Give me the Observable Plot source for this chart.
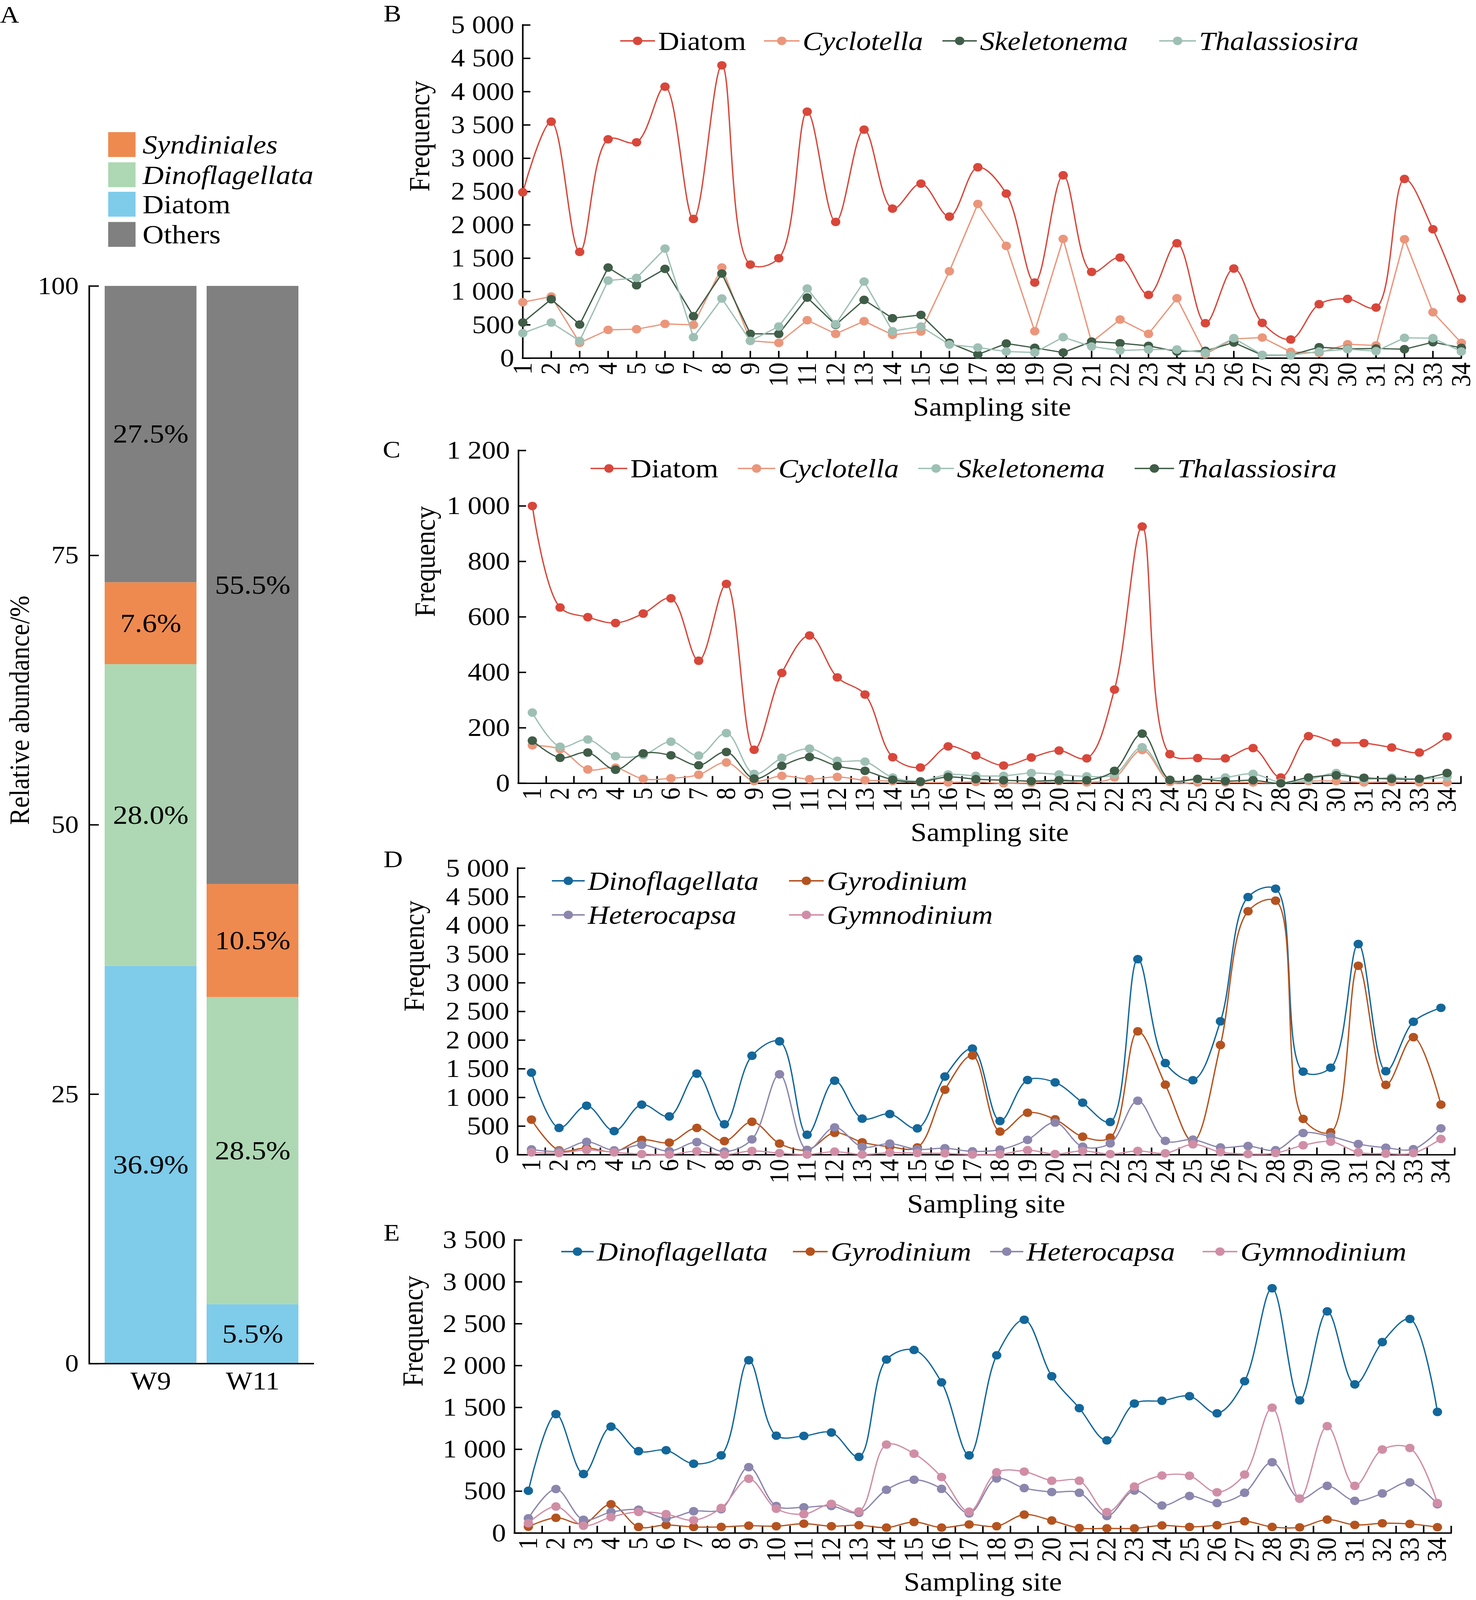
<!DOCTYPE html>
<html>
<head>
<meta charset="utf-8">
<script src="https://cdn.jsdelivr.net/npm/d3@7"></script>
<script src="https://cdn.jsdelivr.net/npm/@observablehq/plot@0.6"></script>
<style>
html, body { margin: 0; padding: 0; background: #fff; overflow: hidden; }
#root { position: relative; width: 3779px; height: 4505px; background: #fff; overflow: hidden;
  font-family: "Liberation Serif", "Times New Roman", serif; color: #000; transform-origin: 0 0; }
.abs { position: absolute; }
.plabel { position: absolute; font-size: 68px; line-height: 1; }
.legtext { position: absolute; font-size: 75px; line-height: 1; white-space: nowrap; transform: translateY(-50%); }
</style>
</head>
<body>
<div id="root"></div>
<script>
const FONT = '"Liberation Serif", "Times New Roman", serif';

// ---------- Panel A data ----------
const stackCategories = ["W9", "W11"];
const stackGroups = ["Diatom", "Dinoflagellata", "Syndiniales", "Others"];
const stackDiatom = [36.9, 5.5];
const stackDinoflagellata = [28.0, 28.5];
const stackSyndiniales = [7.6, 10.5];
const stackOthers = [27.5, 55.5];
const stackColors = ["#7ECBEA", "#ADD8B3", "#EE8A4F", "#808080"];
const stackTicks = [0, 25, 50, 75, 100];
const stackLegendOrder = ["Syndiniales", "Dinoflagellata", "Diatom", "Others"];

// ---------- Shared site categories ----------
const sites = [1,2,3,4,5,6,7,8,9,10,11,12,13,14,15,16,17,18,19,20,21,22,23,24,25,26,27,28,29,30,31,32,33,34];

// ---------- Panel B data ----------
const bDiatom = [2490,3550,1595,3285,3240,4075,2090,4395,1405,1500,3700,2045,3430,2245,2620,2125,2865,2470,1135,2745,1295,1510,950,1725,525,1345,530,280,810,890,760,2690,1935,895];
const bCyclotella = [840,925,230,425,435,515,500,1360,260,230,570,365,555,350,400,1305,2315,1685,405,1790,240,580,365,900,60,290,310,95,80,210,190,1785,690,230];
const bSkeletonema = [535,885,505,1360,1095,1340,630,1270,365,365,910,500,875,600,650,230,55,220,155,85,250,225,185,100,110,235,45,45,165,140,145,135,240,155];
const bThalassiosira = [375,535,260,1165,1205,1645,315,895,260,475,1045,510,1150,405,475,205,160,100,85,315,175,115,130,130,80,300,50,45,100,135,105,305,300,100];
const bTicks = [0,500,1000,1500,2000,2500,3000,3500,4000,4500,5000];

// ---------- Panel C data ----------
const cDiatom = [1000,634,599,578,612,667,442,719,121,398,533,382,320,94,57,133,100,64,93,118,90,338,926,105,91,90,127,21,170,147,145,129,111,169];
const cCyclotella = [137,123,50,56,16,18,31,75,8,27,15,23,11,8,3,3,5,0,2,8,3,21,120,5,3,3,3,1,8,8,3,5,3,3];
const cSkeletonema = [255,132,158,98,102,150,100,181,34,92,125,81,78,21,8,32,27,27,37,32,25,32,130,13,13,21,34,3,13,37,15,21,15,23];
const cThalassiosira = [154,92,111,49,108,101,65,113,17,63,95,62,45,13,6,23,15,11,8,11,11,45,179,12,16,8,11,0,21,29,20,16,16,37];
const cTicks = [0,200,400,600,800,1000,1200];

// ---------- Panel D data ----------
const dDinoflagellata = [1433,469,857,414,875,670,1416,533,1728,1980,350,1293,631,712,461,1365,1852,589,1305,1263,909,572,3413,1600,1301,2329,4497,4642,1451,1519,3677,1459,2321,2564];
const dGyrodinium = [614,77,120,55,260,213,469,239,576,196,85,384,218,141,128,1135,1732,405,734,619,316,299,2154,1224,230,1915,4249,4433,627,392,3298,1220,2052,875];
const dHeterocapsa = [94,64,226,77,175,64,222,55,269,1404,85,478,137,196,94,115,60,90,260,563,141,200,943,243,265,128,154,81,380,320,188,124,98,461];
const dGymnodinium = [43,30,85,43,13,5,64,5,68,30,5,55,5,38,30,26,5,9,81,13,68,13,68,26,183,47,13,30,166,230,43,21,30,277];
const dTicks = [0,500,1000,1500,2000,2500,3000,3500,4000,4500,5000];

// ---------- Panel E data ----------
const eDinoflagellata = [505,1421,705,1271,978,989,828,928,2064,1163,1160,1201,910,2073,2187,1800,928,2123,2548,1873,1492,1107,1547,1580,1635,1430,1814,2924,1585,2648,1776,2281,2557,1447];
const eGyrodinium = [76,182,110,344,73,97,73,73,88,82,112,82,94,65,132,65,103,82,220,150,59,56,56,91,73,94,141,73,68,161,97,117,109,70];
const eHeterocapsa = [176,526,159,250,279,176,261,285,787,323,308,323,241,517,637,528,235,652,537,490,481,203,508,329,443,358,481,846,411,564,385,473,605,344];
const eGymnodinium = [117,317,88,191,252,226,153,299,649,291,226,349,258,1057,948,669,255,725,734,625,625,250,555,687,684,487,699,1497,411,1277,564,998,1016,358];
const eTicks = [0,500,1000,1500,2000,2500,3000,3500];

// ---------- Colours ----------
const colDiatom = "#D8473A", colCyclotella = "#EB967B", colDark = "#3F5D47", colLight = "#9EC0B4";
const colDino = "#13679A", colGyro = "#B4531F", colHetero = "#8B86AD", colGymno = "#D08EA6";

const root = document.getElementById("root");
const fmt = v => d3.format(",")(v).replace(/,/g, " ");

function place(el, left, top) {
  const w = document.createElement("div");
  w.className = "abs";
  w.style.left = left + "px";
  w.style.top = top + "px";
  w.appendChild(el);
  root.appendChild(w);
}
function panelLabel(txt, left, baseline) {
  const d = document.createElement("div");
  d.className = "plabel";
  d.textContent = txt;
  d.style.left = left + "px";
  d.style.top = (baseline - 0.8375 * 68) + "px";
  root.appendChild(d);
}
function lineLegend(items) {
  for (const it of items) {
    const len = it.textX - it.lineX - 8;
    const svg = d3.create("svg").attr("width", len).attr("height", 40)
      .style("position", "absolute").style("left", it.lineX + "px").style("top", (it.y - 20) + "px");
    svg.append("line").attr("x1", 0).attr("x2", len).attr("y1", 20).attr("y2", 20)
      .attr("stroke", it.color).attr("stroke-width", 4);
    svg.append("circle").attr("cx", len / 2).attr("cy", 20).attr("r", 12).attr("fill", it.color);
    root.appendChild(svg.node());
    const t = document.createElement("div");
    t.className = "legtext";
    t.textContent = it.label;
    t.style.left = it.textX + "px";
    t.style.top = it.y + "px";
    if (it.italic) t.style.fontStyle = "italic";
    root.appendChild(t);
  }
}

// ---------- Panel A ----------
(function () {
  const valuesByGroup = {Diatom: stackDiatom, Dinoflagellata: stackDinoflagellata, Syndiniales: stackSyndiniales, Others: stackOthers};
  const data = [];
  stackCategories.forEach((c, i) => stackGroups.forEach(g => data.push({cat: c, group: g, value: valuesByGroup[g][i]})));
  const W = 900, H = 4000, mL = 228, mR = 96, mT = 805, mB = 161;
  const fw = W - mL - mR;
  const chart = Plot.plot({
    width: W, height: H, marginLeft: mL, marginRight: mR, marginTop: mT, marginBottom: mB,
    style: {fontFamily: FONT, fontSize: "70px", background: "transparent", overflow: "visible"},
    x: {domain: stackCategories, paddingInner: 0.1, paddingOuter: 0.15},
    y: {domain: [0, 100]},
    color: {domain: stackGroups, range: stackColors},
    marks: [
      Plot.barY(data, {x: "cat", y: "value", fill: "group", z: "group"}),
      Plot.text(data, Plot.stackY({x: "cat", y: "value", z: "group", text: d => d.value.toFixed(1) + "%", fontSize: 75, fill: "#000"})),
      Plot.axisX({tickSize: 0, tickPadding: 22, label: null, fontSize: 72}),
      Plot.axisY(stackTicks, {tickSize: 0, tickPadding: 27, label: null, fontSize: 70}),
      Plot.tickY(stackTicks, {y: d => d, stroke: "#000", strokeWidth: 4, insetRight: fw - 25}),
      Plot.frame({anchor: "left", stroke: "#000", strokeWidth: 4}),
      Plot.ruleY([0], {stroke: "#000", strokeWidth: 4}),
      Plot.text(["Relative abundance/%"], {text: d => d, frameAnchor: "left", dx: -178, rotate: -90, fontSize: 72})
    ]
  });
  place(chart, 0, 0);

  const legY = [407, 492, 575, 660];
  stackLegendOrder.forEach((g, i) => {
    const sw = document.createElement("div");
    sw.className = "abs";
    sw.style.left = "277px"; sw.style.top = (legY[i] - 35) + "px";
    sw.style.width = "70px"; sw.style.height = "70px";
    sw.style.background = stackColors[stackGroups.indexOf(g)];
    root.appendChild(sw);
    const t = document.createElement("div");
    t.className = "legtext";
    t.textContent = g;
    t.style.left = "365px"; t.style.top = legY[i] + "px";
    if (g === "Syndiniales" || g === "Dinoflagellata") t.style.fontStyle = "italic";
    root.appendChild(t);
  });
  panelLabel("A", 0, 64);
})();

// ---------- Line panels ----------
function linePanel(cfg) {
  const W = 2829;
  const {height: H, mL, mR, mT, mB, band, yDomain, yTicks, series, freqDx} = cfg;
  const fw = W - mL - mR, fh = H - mT - mB;
  const xDomain = band ? [sites[0] - 0.5, sites[sites.length - 1] + 0.5] : [sites[0], sites[sites.length - 1]];
  const xTickPos = band ? sites.map(s => s + 0.5) : sites.slice(1);
  const marks = [
    Plot.ruleX([xDomain[0]], {stroke: "#000", strokeWidth: 4, strokeLinecap: "square"}),
    Plot.ruleY([0], {stroke: "#000", strokeWidth: 4, strokeLinecap: "square"}),
    Plot.tickX(xTickPos, {x: d => d, stroke: "#000", strokeWidth: 4, insetTop: fh - 20}),
    Plot.tickY(yTicks, {y: d => d, stroke: "#000", strokeWidth: 4, insetRight: fw - 20}),
    Plot.axisX(sites, {tickSize: 0, tickPadding: 12, tickRotate: -90, tickFormat: d => String(d), label: null, fontSize: 69}),
    Plot.axisY(yTicks, {tickSize: 0, tickPadding: 22, tickFormat: fmt, label: null, fontSize: 72})
  ];
  for (const s of series) {
    const data = s.values.map((v, i) => ({site: sites[i], value: v}));
    marks.push(Plot.line(data, {x: "site", y: "value", stroke: s.color, strokeWidth: 3.5, curve: s.curve}));
    marks.push(Plot.dot(data, {x: "site", y: "value", fill: s.color, r: 12}));
  }
  marks.push(Plot.text(["Frequency"], {text: d => d, frameAnchor: "left", dx: freqDx, rotate: -90, fontSize: 74}));
  marks.push(Plot.text(["Sampling site"], {text: d => d, frameAnchor: "bottom", dy: 162, fontSize: 74}));
  return Plot.plot({
    width: W, height: H, marginLeft: mL, marginRight: mR, marginTop: mT, marginBottom: mB,
    style: {fontFamily: FONT, fontSize: "68px", background: "transparent", overflow: "visible"},
    x: {domain: xDomain},
    y: {domain: yDomain},
    marks
  });
}

// Panel B
place(linePanel({
  height: 1200, mL: 388, mR: 38, mT: 70, mB: 192, band: false,
  yDomain: [0, 5000], yTicks: bTicks, freqDx: -263,
  series: [
    {values: bDiatom, color: colDiatom, curve: "catmull-rom"},
    {values: bCyclotella, color: colCyclotella, curve: "linear"},
    {values: bSkeletonema, color: colDark, curve: "linear"},
    {values: bThalassiosira, color: colLight, curve: "linear"}
  ]
}), 950, 0);
panelLabel("B", 982, 61);
lineLegend([
  {label: "Diatom", color: colDiatom, lineX: 1588, textX: 1685, y: 115},
  {label: "Cyclotella", color: colCyclotella, lineX: 1956, textX: 2055, y: 115, italic: true},
  {label: "Skeletonema", color: colDark, lineX: 2413, textX: 2509, y: 115, italic: true},
  {label: "Thalassiosira", color: colLight, lineX: 2968, textX: 3070, y: 115, italic: true}
]);

// Panel C
place(linePanel({
  height: 1200, mL: 377, mR: 39, mT: 68, mB: 195, band: true,
  yDomain: [0, 1200], yTicks: cTicks, freqDx: -238,
  series: [
    {values: cDiatom, color: colDiatom, curve: "catmull-rom"},
    {values: cCyclotella, color: colCyclotella, curve: "catmull-rom"},
    {values: cSkeletonema, color: colLight, curve: "catmull-rom"},
    {values: cThalassiosira, color: colDark, curve: "catmull-rom"}
  ]
}), 950, 1200);
panelLabel("C", 980, 1288);
lineLegend([
  {label: "Diatom", color: colDiatom, lineX: 1512, textX: 1614, y: 1319},
  {label: "Cyclotella", color: colCyclotella, lineX: 1889, textX: 1993, y: 1319, italic: true},
  {label: "Skeletonema", color: colLight, lineX: 2351, textX: 2450, y: 1319, italic: true},
  {label: "Thalassiosira", color: colDark, lineX: 2905, textX: 3014, y: 1319, italic: true}
]);

// Panel D
place(linePanel({
  height: 1060, mL: 375, mR: 55, mT: 64, mB: 189, band: true,
  yDomain: [0, 5000], yTicks: dTicks, freqDx: -264,
  series: [
    {values: dDinoflagellata, color: colDino, curve: "catmull-rom"},
    {values: dGyrodinium, color: colGyro, curve: "catmull-rom"},
    {values: dHeterocapsa, color: colHetero, curve: "catmull-rom"},
    {values: dGymnodinium, color: colGymno, curve: "catmull-rom"}
  ]
}), 950, 2380);
panelLabel("D", 982, 2442);
lineLegend([
  {label: "Dinoflagellata", color: colDino, lineX: 1413, textX: 1505, y: 2480, italic: true},
  {label: "Gyrodinium", color: colGyro, lineX: 2020, textX: 2117, y: 2480, italic: true},
  {label: "Heterocapsa", color: colHetero, lineX: 1413, textX: 1505, y: 2576, italic: true},
  {label: "Gymnodinium", color: colGymno, lineX: 2020, textX: 2117, y: 2576, italic: true}
]);

// Panel E
place(linePanel({
  height: 1065, mL: 367, mR: 64, mT: 51, mB: 189, band: true,
  yDomain: [0, 3500], yTicks: eTicks, freqDx: -259,
  series: [
    {values: eDinoflagellata, color: colDino, curve: "catmull-rom"},
    {values: eGyrodinium, color: colGyro, curve: "catmull-rom"},
    {values: eHeterocapsa, color: colHetero, curve: "catmull-rom"},
    {values: eGymnodinium, color: colGymno, curve: "catmull-rom"}
  ]
}), 950, 3440);
panelLabel("E", 982, 3493);
lineLegend([
  {label: "Dinoflagellata", color: colDino, lineX: 1437, textX: 1528, y: 3524, italic: true},
  {label: "Gyrodinium", color: colGyro, lineX: 2030, textX: 2127, y: 3524, italic: true},
  {label: "Heterocapsa", color: colHetero, lineX: 2535, textX: 2628, y: 3524, italic: true},
  {label: "Gymnodinium", color: colGymno, lineX: 3079, textX: 3176, y: 3524, italic: true}
]);

// Fit the whole figure into the actual viewport if it is smaller than the figure.
(function fit() {
  const sx = Math.min(1, window.innerWidth / 3779);
  const sy = Math.min(1, window.innerHeight / 4505);
  if (sx < 1 || sy < 1) root.style.transform = `scale(${sx}, ${sy})`;
})();
</script>
</body>
</html>
